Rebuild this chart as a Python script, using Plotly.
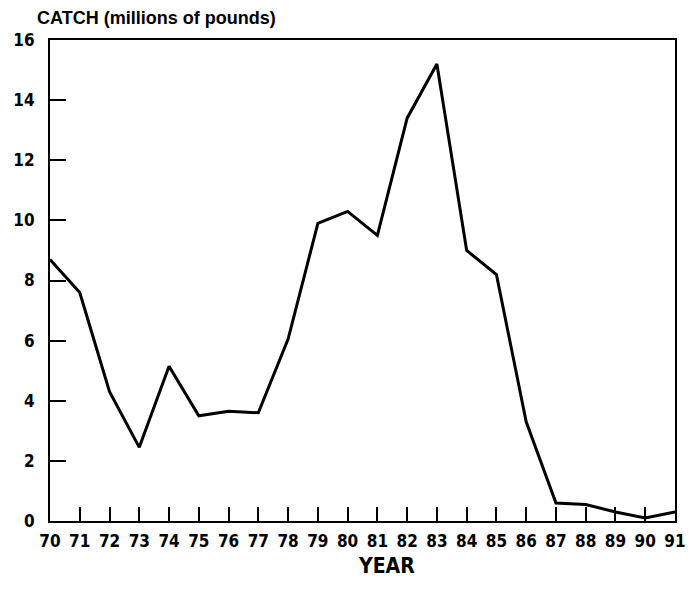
import plotly.graph_objects as go

# Data
years = list(range(70, 92))
catch = [8.7, 7.6, 4.3, 2.45, 5.15, 3.5, 3.65, 3.6, 6.05, 9.9, 10.3, 9.5,
         13.4, 15.2, 9.0, 8.2, 3.3, 0.6, 0.55, 0.3, 0.1, 0.3]
year_labels = [str(y) for y in years]
y_ticks = [0, 2, 4, 6, 8, 10, 12, 14, 16]

narrow = "Liberation Sans Narrow, Arial Narrow, DejaVu Sans Condensed, Liberation Sans, sans-serif"
wide = "Liberation Sans, Arial, Helvetica, sans-serif"

fig = go.Figure()
fig.add_trace(go.Scatter(
    x=years, y=catch, mode="lines",
    line=dict(color="black", width=3),
    hoverinfo="x+y", showlegend=False,
))

fig.update_layout(
    width=699, height=589,
    margin=dict(l=42, r=32, t=32, b=75.5),
    paper_bgcolor="white", plot_bgcolor="white",
    xaxis=dict(
        range=[70, 91], tickvals=years, ticktext=year_labels,
        ticks="inside", ticklen=14, tickwidth=1.5, tickcolor="black",
        showline=True, linecolor="black", linewidth=2, mirror=True,
        showgrid=False, zeroline=False, automargin=False,
        tickfont=dict(family=narrow, size=17, color="black", weight="bold"),
        ticklabelstandoff=4,
    ),
    yaxis=dict(
        range=[0, 16], tickvals=y_ticks, ticktext=[str(v) for v in y_ticks],
        ticks="inside", ticklen=16, tickwidth=1.5, tickcolor="black",
        showline=True, linecolor="black", linewidth=2, mirror=True,
        showgrid=False, zeroline=False, automargin=False,
        tickfont=dict(family=narrow, size=17, color="black", weight="bold"),
        ticklabelstandoff=10,
    ),
    annotations=[
        dict(text="CATCH (millions of pounds)", xref="paper", yref="paper",
             x=-0.024, y=1.045, xanchor="left", yanchor="middle", showarrow=False,
             font=dict(family=wide, size=18, color="black", weight="bold")),
        dict(text="YEAR", xref="paper", yref="paper",
             x=0.539, y=-0.094, xanchor="center", yanchor="middle", showarrow=False,
             font=dict(family=narrow, size=21, color="black", weight="bold")),
    ],
)

fig.write_html("out.html")
